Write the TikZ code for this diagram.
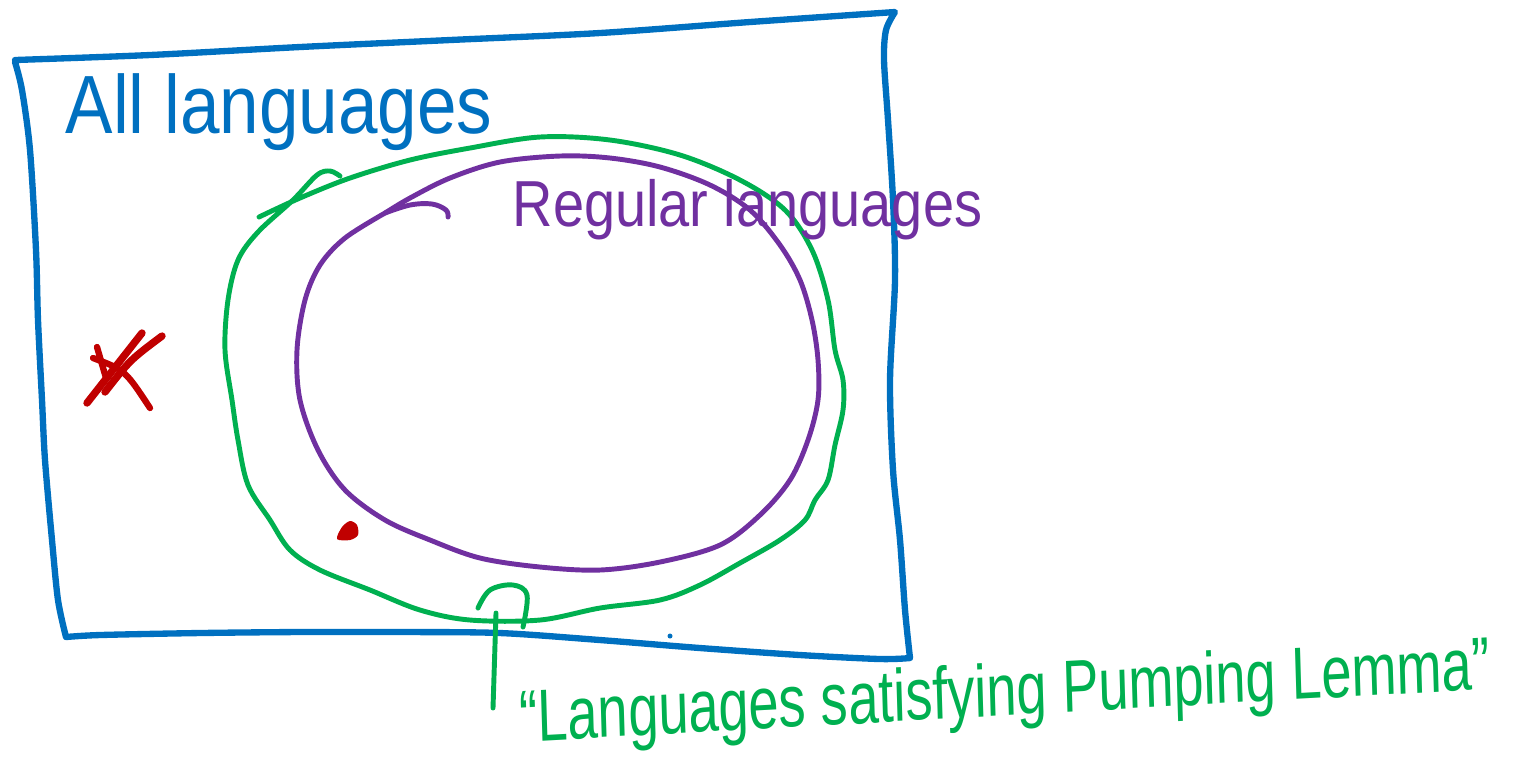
\documentclass[tikz,border=0pt]{standalone}
\usepackage{fontspec}
\setmainfont{Liberation Sans}
\definecolor{penblue}{HTML}{0070C0}
\definecolor{pengreen}{HTML}{00B050}
\definecolor{penpurple}{HTML}{7030A0}
\definecolor{penred}{HTML}{C00000}
\begin{document}
\begin{tikzpicture}[x=0.01cm,y=-0.01cm,
  pen/.style={line width=1.4pt, line cap=round, line join=round},
  thickpen/.style={line width=1.8pt, line cap=round, line join=round},
  label/.style={inner sep=0pt, anchor=base west}]
\useasboundingbox (0,0) rectangle (1513,756);

% universe: all languages
\draw[thickpen, penblue]
  plot[smooth, tension=0.5] coordinates {(15,60) (150,55) (300,47) (450,40) (600,33) (750,22) (895,12)}
  -- plot[smooth, tension=0.5] coordinates {(895,12) (886,30) (884,60) (888,120) (893,200) (895,280) (890,380) (893,470) (900,540) (905,610) (910,658)}
  -- plot[smooth, tension=0.5] coordinates {(910,658) (880,659) (800,655) (700,648) (600,640) (500,633) (400,632) (300,632) (200,633) (100,635) (66,637)}
  -- plot[smooth, tension=0.5] coordinates {(66,637) (58,600) (52,540) (45,460) (42,400) (38,320) (36,250) (30,150) (22,90) (15,62)};
\node[label, penblue, font=\fontsize{23.5pt}{23.5pt}\selectfont, xscale=0.86] (all) at (65,133) {All languages};
\fill[penblue] (670,636) circle (2.5);

% languages satisfying the pumping lemma
\draw[pen, pengreen] plot[smooth, tension=0.55] coordinates {
  (259,217) (300,198) (350,178) (410,160) (470,148) (540,137) (610,140)
  (680,155) (740,180) (785,210) (812,250) (828,300) (835,350) (843,380)
  (843,410) (835,445) (828,480) (815,500) (805,520) (780,540) (740,563)
  (700,585) (660,600) (600,608) (540,620) (470,620) (420,610) (370,590)
  (320,570) (290,550) (270,520) (248,485) (238,440) (232,400) (225,350)
  (228,300) (238,260) (258,232) (293,200) (317,175) (330,171) (340,176)};
\node[label, pengreen, font=\fontsize{21pt}{21pt}\selectfont, xscale=0.735, rotate=2.3] (pump) at (520,742)
  {“Languages satisfying Pumping Lemma”};
\coordinate (pumpfoot) at (493,708);
\coordinate (pumptop) at (496,613);
\draw[pen, pengreen] (pumpfoot) -- (pumptop);
\draw[pen, pengreen] plot[smooth, tension=0.6] coordinates {(478,608) (490,590) (513,585) (527,595) (523,627)};

% regular languages
\draw[pen, penpurple] plot[smooth, tension=0.55] coordinates {
  (385,213) (410,198) (450,178) (500,162) (560,156) (610,158) (660,167)
  (710,185) (750,210) (780,245) (800,280) (812,320) (818,360) (818,400)
  (808,440) (790,480) (760,515) (720,545) (660,562) (600,570) (540,567)
  (480,558) (430,540) (385,520) (345,490) (318,450) (300,400) (297,350)
  (305,300) (320,265) (345,238) (385,213)};
\draw[pen, penpurple] plot[smooth, tension=0.6] coordinates {(385,213) (410,205) (432,204) (446,210) (448,217)};
\node[label, penpurple, font=\fontsize{18.5pt}{18.5pt}\selectfont, xscale=0.86] (reg) at (512,226) {Regular languages};

% a language outside, crossed out
\draw[thickpen, penred, line width=2.1pt] (87,403) -- (142,333);
\draw[thickpen, penred, line width=2.1pt] (105,392) .. controls (130,360) .. (162,336);
\draw[thickpen, penred] (93,358) .. controls (125,370) .. (150,408);
\draw[thickpen, penred] (97,347) -- (106,378);
% a point between the two classes
\fill[penred] plot[smooth cycle] coordinates {(337,539) (342,527) (350,521) (357,525) (358,535) (350,540)};
\end{tikzpicture}
\end{document}
